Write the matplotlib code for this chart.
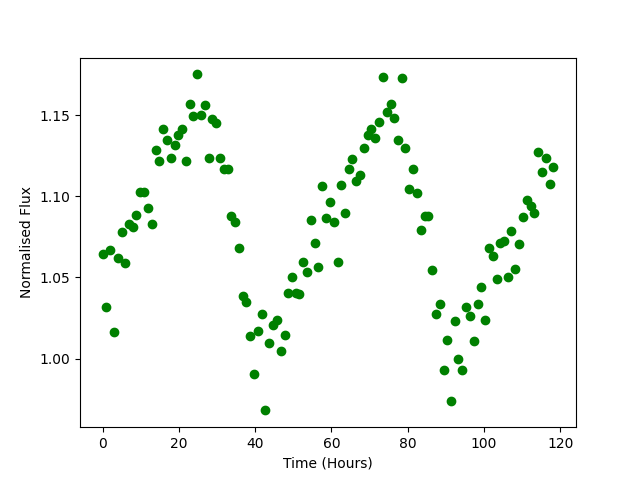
import matplotlib
matplotlib.use("Agg")
import matplotlib.pyplot as plt

# Time (hours) and normalised flux
time_hours = [
    0.0, 1.0, 2.0, 3.0, 4.0, 5.0, 6.0, 7.0, 7.9, 8.9,
    9.9, 10.9, 11.9, 12.9, 13.9, 14.9, 15.9, 16.9, 17.9, 18.9,
    19.9, 20.9, 21.8, 22.8, 23.8, 24.8, 25.8, 26.8, 27.8, 28.8,
    29.8, 30.8, 31.8, 32.8, 33.8, 34.8, 35.7, 36.7, 37.7, 38.7,
    39.7, 40.7, 41.7, 42.7, 43.7, 44.7, 45.7, 46.7, 47.7, 48.7,
    49.7, 50.6, 51.6, 52.6, 53.6, 54.6, 55.6, 56.6, 57.6, 58.6,
    59.6, 60.6, 61.6, 62.6, 63.6, 64.5, 65.5, 66.5, 67.5, 68.5,
    69.5, 70.5, 71.5, 72.5, 73.5, 74.5, 75.5, 76.5, 77.5, 78.4,
    79.4, 80.4, 81.4, 82.4, 83.4, 84.4, 85.4, 86.4, 87.4, 88.4,
    89.4, 90.4, 91.4, 92.3, 93.3, 94.3, 95.3, 96.3, 97.3, 98.3,
    99.3, 100.3, 101.3, 102.3, 103.3, 104.3, 105.3, 106.2, 107.2, 108.2,
    109.2, 110.2, 111.2, 112.2, 113.2, 114.2, 115.2, 116.2, 117.2, 118.2,
]
flux = [
    1.0642, 1.0315, 1.0670, 1.0165, 1.0623, 1.0780, 1.0590, 1.0829, 1.0810, 1.0887,
    1.1030, 1.1030, 1.0930, 1.0833, 1.1284, 1.1220, 1.1418, 1.1346, 1.1235, 1.1320,
    1.1380, 1.1415, 1.1220, 1.1570, 1.1498, 1.1753, 1.1504, 1.1566, 1.1239, 1.1480,
    1.1455, 1.1239, 1.1170, 1.1170, 1.0877, 1.0844, 1.0685, 1.0383, 1.0350, 1.0142,
    0.9907, 1.0171, 1.0276, 0.9680, 1.0093, 1.0206, 1.0239, 1.0047, 1.0146, 1.0405,
    1.0504, 1.0405, 1.0399, 1.0593, 1.0535, 1.0856, 1.0710, 1.0562, 1.1062, 1.0868,
    1.0967, 1.0844, 1.0593, 1.1068, 1.0895, 1.1171, 1.1228, 1.1097, 1.1134, 1.1296,
    1.1380, 1.1415, 1.1362, 1.1460, 1.1738, 1.1523, 1.1568, 1.1486, 1.1346, 1.1733,
    1.1296, 1.1043, 1.1171, 1.1019, 1.0794, 1.0877, 1.0877, 1.0549, 1.0276, 1.0338,
    0.9932, 1.0117, 0.9740, 1.0232, 0.9998, 0.9930, 1.0315, 1.0265, 1.0109, 1.0338,
    1.0443, 1.0239, 1.0679, 1.0634, 1.0488, 1.0712, 1.0727, 1.0500, 1.0788, 1.0554,
    1.0704, 1.0875, 1.0981, 1.0940, 1.0899, 1.1276, 1.1150, 1.1239, 1.1078, 1.1179,
]

plt.figure(figsize=(6.4, 4.8), dpi=100)
plt.plot(time_hours, flux, 'o', color='green')
plt.xlabel("Time (Hours)")
plt.ylabel("Normalised Flux")
plt.savefig("out.png")
